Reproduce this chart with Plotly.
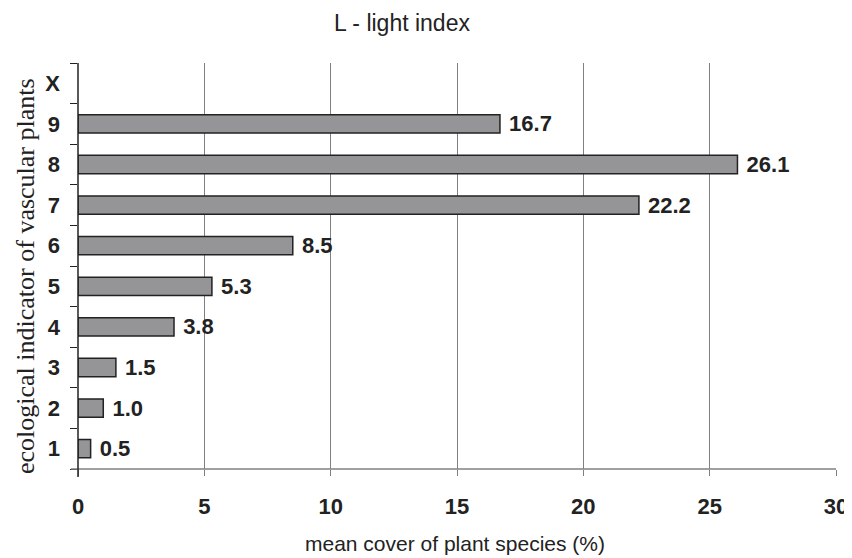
import plotly.graph_objects as go

categories = ["1", "2", "3", "4", "5", "6", "7", "8", "9", "X"]
values = [0.5, 1.0, 1.5, 3.8, 5.3, 8.5, 22.2, 26.1, 16.7, None]
labels = ["0.5", "1.0", "1.5", "3.8", "5.3", "8.5", "22.2", "26.1", "16.7", ""]
x_ticks = [0, 5, 10, 15, 20, 25, 30]

# page has an 8px body margin; figure coords = reference coords - 8
W, H = 844, 550
L, T = 70, 55
PW, PH = 758, 406
R, B = W - L - PW, H - T - PH


def px(fx):
    return (fx - L) / PW


def py(fy):
    return (T + PH - fy) / PH


fig = go.Figure()
fig.add_trace(go.Bar(
    x=values, y=categories, orientation="h",
    width=0.45,
    marker=dict(color="#959597", line=dict(color="#222222", width=1.5)),
    text=labels, texttemplate="\u00a0%{text}", textposition="outside",
    constraintext="none",
    textfont=dict(family="Liberation Sans", size=22, color="#222222", weight="bold"),
    cliponaxis=False,
))

fig.update_layout(
    width=W, height=H,
    margin=dict(l=L, r=R, t=T, b=B),
    paper_bgcolor="white", plot_bgcolor="white",
    showlegend=False,
    xaxis=dict(
        range=[0, 30], tickvals=x_ticks, ticktext=[str(t) for t in x_ticks],
        showgrid=True, gridcolor="#808080", gridwidth=1, zeroline=False,
        showline=False, ticks="outside", ticklen=6, tickcolor="#808080",
        tickfont=dict(family="Liberation Sans", size=22, color="#222222", weight="bold"),
        ticklabelstandoff=12, automargin=False, ticklabeloverflow="allow",
    ),
    yaxis=dict(
        type="category", categoryorder="array", categoryarray=categories,
        range=[-0.5, 9.5],
        showgrid=False, zeroline=False, showline=False,
        ticks="outside", tickson="boundaries", ticklen=7, tickcolor="#222222",
        tickfont=dict(family="Liberation Sans", size=22, color="#222222", weight="bold"),
        ticklabelstandoff=17, automargin=False, ticklabeloverflow="allow",
    ),
    annotations=[
        dict(text="L - light index", xref="paper", yref="paper",
             x=px(394), y=py(0), xanchor="center", yanchor="top",
             showarrow=False, font=dict(family="Liberation Sans", size=23, color="#222222")),
        dict(text="mean cover of plant species (%)", xref="paper", yref="paper",
             x=px(447), y=py(535), xanchor="center", yanchor="middle",
             showarrow=False, font=dict(family="Liberation Sans", size=21, color="#222222")),
        dict(text="ecological indicator of vascular plants", xref="paper", yref="paper",
             x=px(17), y=py(268), xanchor="center", yanchor="middle",
             textangle=-90, showarrow=False,
             font=dict(family="Liberation Serif", size=26, color="#222222")),
    ],
    shapes=[
        dict(type="line", xref="paper", yref="paper", x0=-7 / PW, x1=1, y0=0, y1=0,
             line=dict(color="#808080", width=1.5)),
        dict(type="line", xref="paper", yref="paper", x0=0, x1=0, y0=-8 / PH, y1=1,
             line=dict(color="#222222", width=1.5)),
    ],
)

fig.write_html("out.html")
